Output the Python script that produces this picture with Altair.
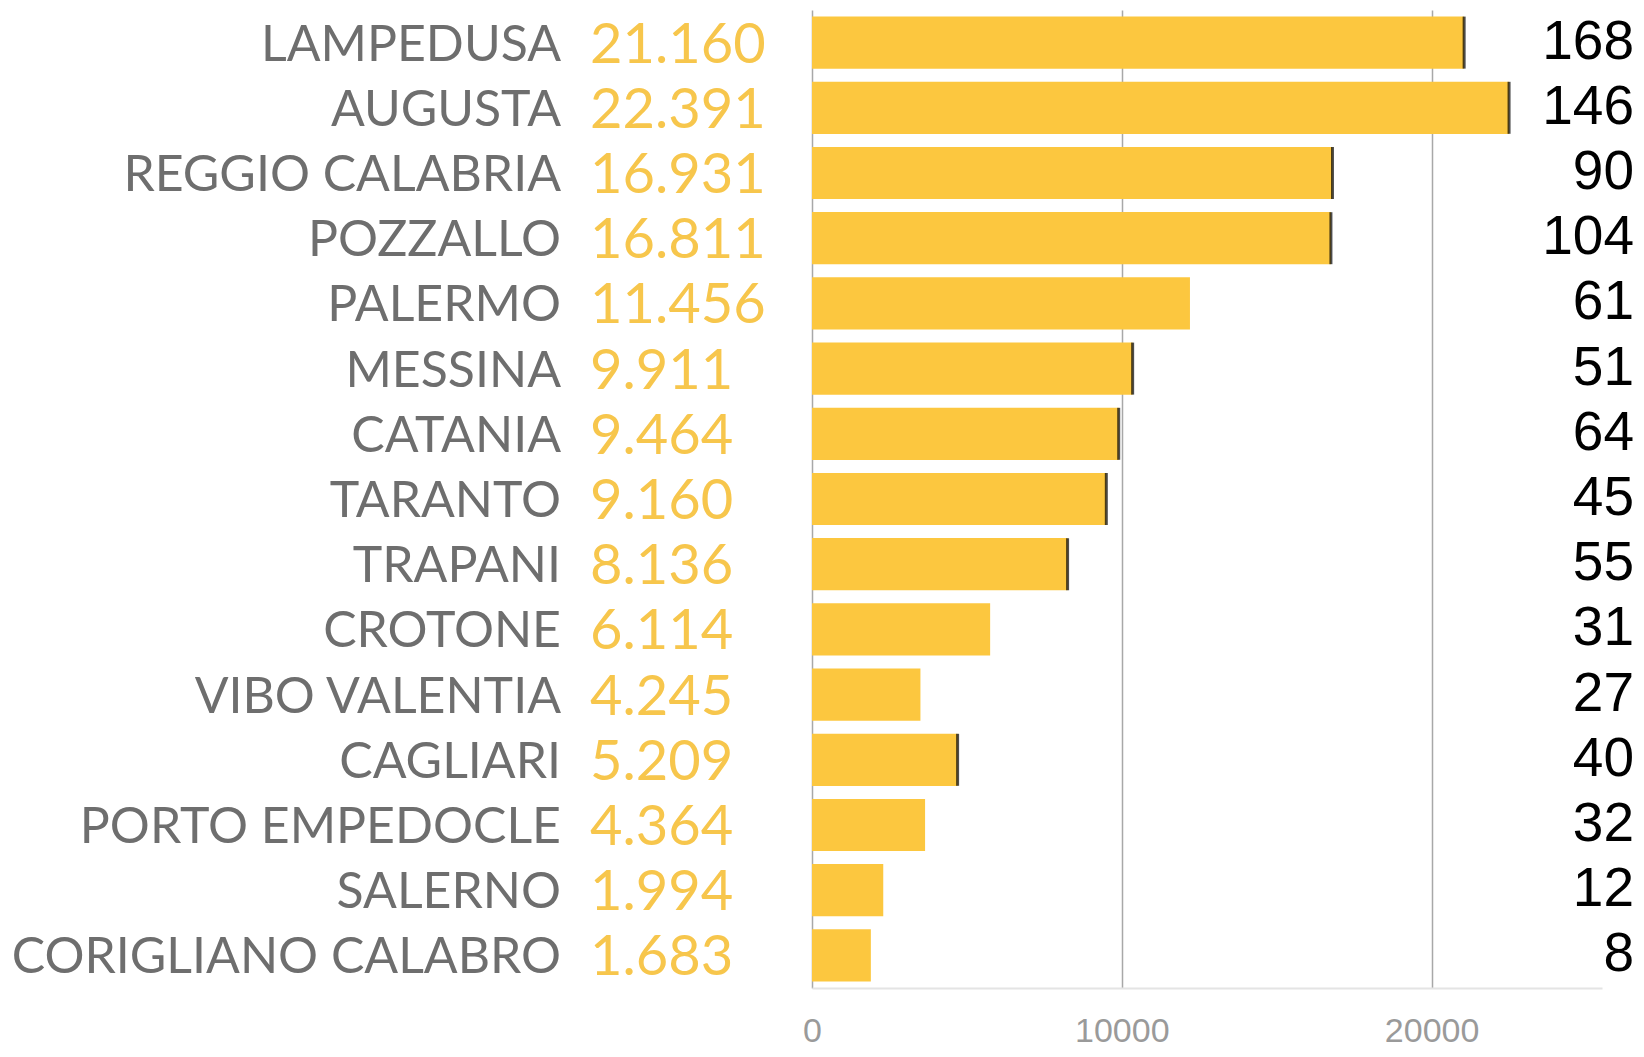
import altair as alt
import pandas as pd

porti = ["LAMPEDUSA", "AUGUSTA", "REGGIO CALABRIA", "POZZALLO", "PALERMO",
         "MESSINA", "CATANIA", "TARANTO", "TRAPANI", "CROTONE",
         "VIBO VALENTIA", "CAGLIARI", "PORTO EMPEDOCLE", "SALERNO",
         "CORIGLIANO CALABRO"]
migranti = [21160, 22391, 16931, 16811, 11456, 9911, 9464, 9160, 8136, 6114,
            4245, 5209, 4364, 1994, 1683]
# bar lengths as drawn in the picture (read against the axis)
barre = [21050, 22500, 16800, 16750, 12200, 10350, 9900, 9500, 8250, 5750,
         3500, 4700, 3650, 2300, 1900]
sbarchi = [168, 146, 90, 104, 61, 51, 64, 45, 55, 31, 27, 40, 32, 12, 8]
segno = [1, 1, 1, 1, 0, 1, 1, 1, 1, 0, 0, 1, 0, 0, 0]
assi = [0, 10000, 20000]

df = pd.DataFrame({"porto": porti, "migranti": migranti, "barra": barre,
                   "sbarchi": sbarchi, "segno": segno})
df["etichetta"] = [f"{v:,}".replace(",", ".") for v in migranti]

W, H = 790, 978

y = alt.Y("porto:N", sort=porti, axis=None,
          scale=alt.Scale(paddingInner=0.2, paddingOuter=0.1))
xscale = alt.Scale(domain=[0, 25500], nice=False, zero=True)

base = alt.Chart(df)

bars = base.mark_bar(color="#FCC73F").encode(
    x=alt.X("barra:Q", scale=xscale,
            axis=alt.Axis(values=assi, grid=True, gridColor="#a8a8a8",
                          gridWidth=1.5, domainColor="#e4e4e4", domainWidth=2,
                          ticks=False, labelFontSize=34, labelColor="#9a9a9a",
                          labelFont="Liberation Sans", labelPadding=26,
                          labelFlush=False, title=None, format="d")),
    y=y,
)

ticks = base.transform_filter("datum.segno == 1").mark_tick(
    color="black", thickness=3, size=52, orient="vertical"
).encode(x=alt.X("barra:Q", scale=xscale), y=y)

names = base.mark_text(align="right", baseline="middle", font="Lato",
                       fontSize=50, color="#6e6e6e", dy=3).encode(
    x=alt.value(-251), y=y, text="porto:N")

nums = base.mark_text(align="left", baseline="middle", font="Lato",
                      fontSize=56, color="#F7C64C", dy=3).encode(
    x=alt.value(-222), y=y, text="etichetta:N")

right = base.mark_text(align="right", baseline="middle",
                       font="Liberation Sans", fontSize=55, color="black",
                       dy=-1).encode(
    x=alt.value(822), y=y, text="sbarchi:Q")

chart = alt.layer(bars, ticks, names, nums, right).properties(
    width=W, height=H,
    autosize=alt.AutoSizeParams(type="none"),
    padding={"left": 804, "top": 2, "right": 34, "bottom": 60},
).configure_view(stroke=None)

chart.save("out.html", embed_options={"renderer": "svg", "actions": False})
